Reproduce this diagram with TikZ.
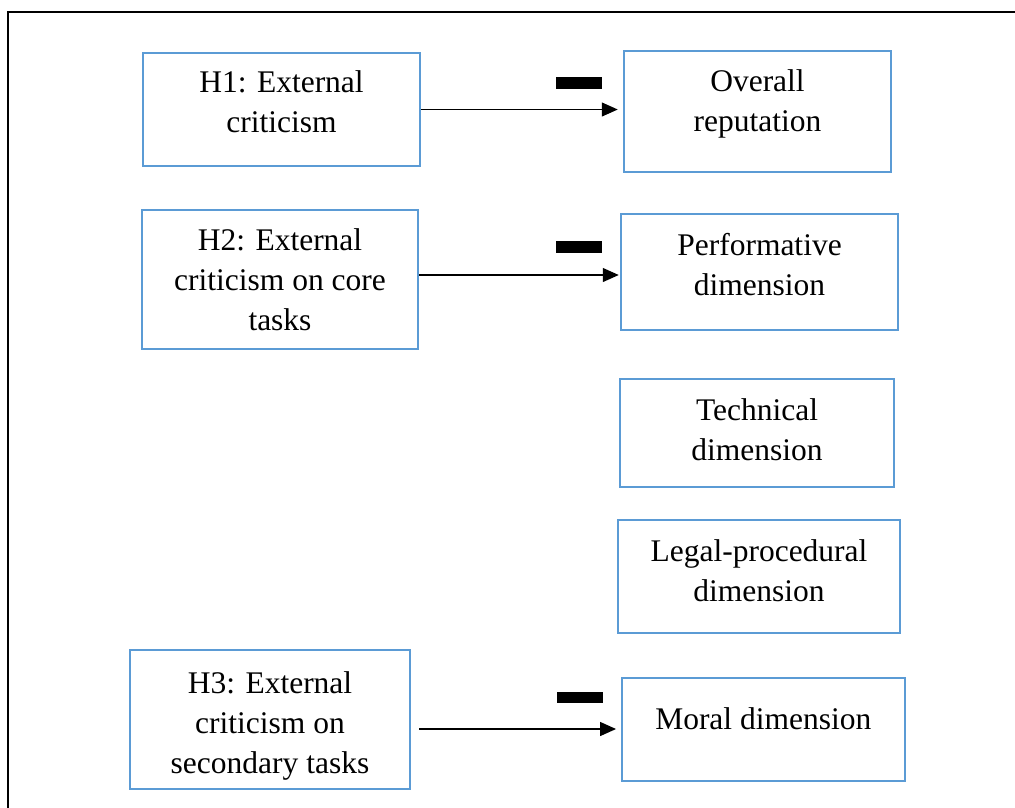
\documentclass[tikz,border=0pt]{standalone}
\usepackage{fontspec}
\setmainfont{Liberation Serif}
\usetikzlibrary{arrows.meta}
\definecolor{boxblue}{RGB}{91,155,213}
\tikzset{
  box/.style={draw=boxblue, line width=2.5pt, inner sep=0pt, rectangle},
  lbl/.style={inner sep=0pt, anchor=base, font=\fontsize{31.5}{40}\selectfont},
  arr/.style={draw=black, line width=1.3pt, -{Triangle[length=16pt,width=14pt]}},
  minus/.style={fill=black},
  frame/.style={draw=black, line width=2.4pt}
}
\newcommand\boxlines[2]{\parbox[t]{#1}{\centering #2}}
\begin{document}
\begin{tikzpicture}[x=1pt,y=-1pt]
\useasboundingbox (0,0) rectangle (1015,807);
\clip (0,0) rectangle (1015,807);
\draw[frame] (8,830) -- (8,12) -- (1040,12);

% boxes
\node[box, minimum width=277pt, minimum height=113pt] (h1) at (281.5,109.5) {};
\node[box, minimum width=267pt, minimum height=121pt] (rep) at (757.5,111.5) {};
\node[box, minimum width=276pt, minimum height=139pt] (h2) at (280,279.5) {};
\node[box, minimum width=277pt, minimum height=116pt] (perf) at (759.5,272) {};
\node[box, minimum width=274pt, minimum height=108pt] (tech) at (757,433) {};
\node[box, minimum width=282pt, minimum height=113pt] (legal) at (759,576.5) {};
\node[box, minimum width=280pt, minimum height=139pt] (h3) at (270,719.5) {};
\node[box, minimum width=283pt, minimum height=103pt] (moral) at (763.3,729.5) {};

% texts
\node[lbl] (h1t) at (281.5,92.7) {\boxlines{270pt}{H1: External\\criticism}};
\node[lbl] (rept) at (757.5,91.7) {\boxlines{260pt}{Overall\\reputation}};
\node[lbl] (h2t) at (280,250.5) {\boxlines{270pt}{H2: External\\criticism on core\\tasks}};
\node[lbl] (perft) at (759.5,255) {\boxlines{270pt}{Performative\\dimension}};
\node[lbl] (techt) at (757,420) {\boxlines{270pt}{Technical\\dimension}};
\node[lbl] (legalt) at (759,561.7) {\boxlines{275pt}{Legal-procedural\\dimension}};
\node[lbl] (h3t) at (270,693) {\boxlines{275pt}{H3: External\\criticism on\\secondary tasks}};
\node[lbl] (moralt) at (763.3,729.3) {\boxlines{280pt}{Moral dimension}};

% arrows
\draw[arr, shorten >=5pt] (h1.east) -- (rep.west |- h1.east);
\draw[arr, shorten >=1pt] (h2.east |- 0,275) -- (perf.west |- 0,275);
\draw[arr, shorten <=8pt, shorten >=4.5pt] (h3.east |- 0,729) -- (moral.west |- 0,729);

% minus signs
\fill[minus] (556,77) rectangle (602,89);
\fill[minus] (556,241) rectangle (602,253);
\fill[minus] (557,692) rectangle (603,703);
\end{tikzpicture}
\end{document}
